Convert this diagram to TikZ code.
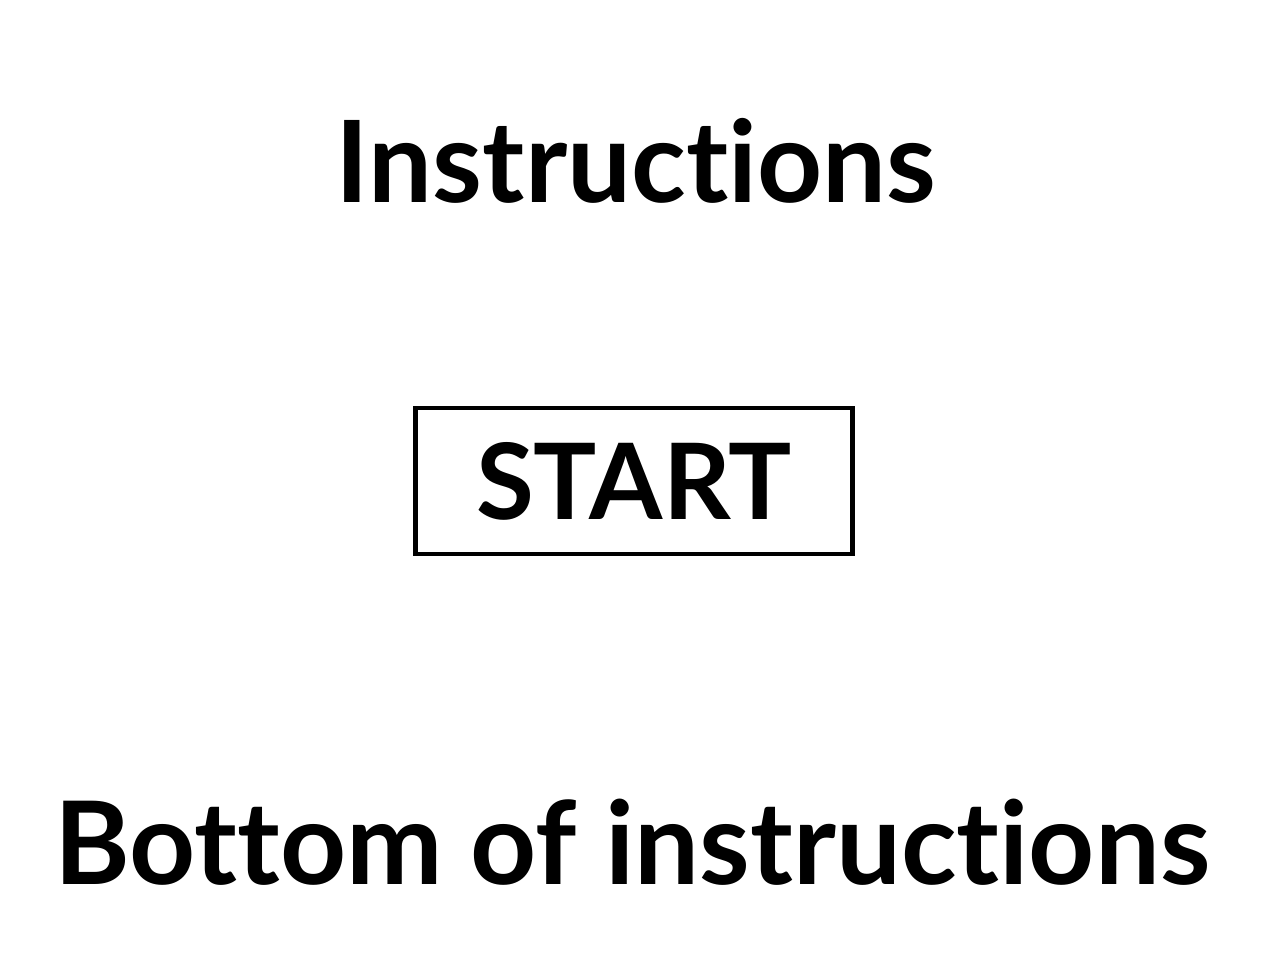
\documentclass[tikz,border=0pt]{standalone}
\usepackage{fontspec}
\setmainfont[Ligatures={NoCommon}]{Lato}
\begin{document}
\begin{tikzpicture}
      \useasboundingbox[fill=white] (0,0) rectangle (12.68,9.62);
      \node[anchor=base,font=\fontsize{32.3}{38}\selectfont\bfseries] (title) at (6.36,7.59) {Instructions};
      \node[shape=rectangle,draw=black,line width=1.4pt,minimum width=4.37cm,minimum height=1.46cm,font=\fontsize{30}{36}\selectfont\bfseries] (start) at (6.34,4.81) {START};
      \node[anchor=base,font=\fontsize{32.8}{38}\selectfont\bfseries] (bottom) at (6.325,0.77) {Bottom of instructions};
  \end{tikzpicture}
\end{document}
